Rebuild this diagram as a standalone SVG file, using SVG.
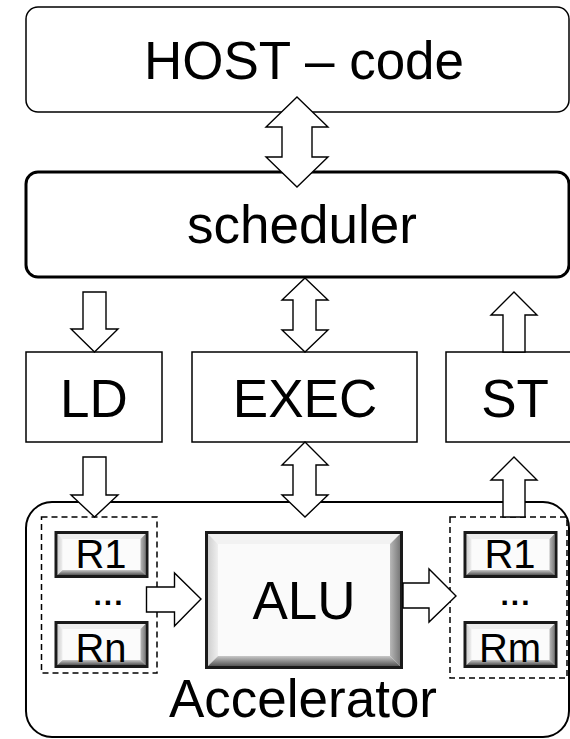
<svg xmlns="http://www.w3.org/2000/svg" xmlns:xlink="http://www.w3.org/1999/xlink" width="570" height="739" viewBox="0 0 570 739">
<style>
.box{fill:#fff;stroke:#000;stroke-width:1.5}
.arr{fill:#fff;stroke:#000;stroke-width:1.4;stroke-linejoin:miter}
.dash{fill:none;stroke:#000;stroke-width:1.5;stroke-dasharray:6,4}
.t{font-family:"Liberation Sans",Arial,sans-serif;font-size:53px;fill:#000;text-anchor:middle}
.r{font-family:"Liberation Sans",Arial,sans-serif;font-size:40px;fill:#000;text-anchor:middle}
.d{font-family:"Liberation Sans",Arial,sans-serif;font-size:30px;font-weight:bold;letter-spacing:2px;fill:#000;text-anchor:middle}
</style>
<defs>
<linearGradient id="gl" x1="0" y1="0" x2="1" y2="0"><stop offset="0" stop-color="#cfcfcf"/><stop offset="1" stop-color="#efefef"/></linearGradient>
<linearGradient id="gr" x1="0" y1="0" x2="1" y2="0"><stop offset="0" stop-color="#b8b8b8"/><stop offset="1" stop-color="#7a7a7a"/></linearGradient>
<linearGradient id="gb" x1="0" y1="0" x2="0" y2="1"><stop offset="0" stop-color="#c8c8c8"/><stop offset="1" stop-color="#555"/></linearGradient>
<g id="reg">
<rect x="3" y="3" width="88" height="41" fill="#fbfbfb"/>
<polygon points="3,3 91,3 86,8 8,8" fill="#ededed"/>
<polygon points="3,3 8,8 8,39 3,44" fill="url(#gl)"/>
<polygon points="91,3 91,44 86,39 86,8" fill="url(#gr)"/>
<polygon points="3,44 91,44 86,39 8,39" fill="url(#gb)"/>
<rect x="1.5" y="1.5" width="91" height="44" fill="none" stroke="#1a1a1a" stroke-width="3"/>
</g>
</defs>

<g id="host">
<rect class="box" x="26" y="7" width="543" height="105" rx="12"/>
<text class="t" x="304" y="79">HOST – code</text>
</g>
<g id="scheduler">
<rect class="box" x="26" y="172" width="543" height="105" rx="12" style="stroke-width:3"/>
<text class="t" x="302" y="243">scheduler</text>
</g>
<g id="ld">
<rect class="box" x="26" y="352" width="136" height="90"/>
<text class="t" x="94" y="417">LD</text>
</g>
<g id="exec">
<rect class="box" x="192" y="352" width="225" height="90"/>
<text class="t" x="305" y="417">EXEC</text>
</g>
<g id="st">
<rect class="box" x="446" y="352" width="140" height="90"/>
<text class="t" x="515" y="417">ST</text>
</g>
<g id="accelerator">
<rect class="box" x="26" y="502" width="543" height="235" rx="26" style="stroke-width:2"/>
<text class="t" x="303" y="717">Accelerator</text>
</g>
<g id="in-regs">
<rect class="dash" x="41.5" y="517" width="115.5" height="156"/>
<use xlink:href="#reg" href="#reg" x="54.5" y="531"/>
<text class="r" x="101" y="568">R1</text>
<text class="d" x="109" y="605">...</text>
<use xlink:href="#reg" href="#reg" x="54.5" y="621"/>
<text class="r" x="101" y="662">Rn</text>
</g>
<g id="out-regs">
<rect class="dash" x="450" y="517" width="117" height="161"/>
<use xlink:href="#reg" href="#reg" x="463.5" y="531"/>
<text class="r" x="510" y="568">R1</text>
<text class="d" x="516" y="605">...</text>
<use xlink:href="#reg" href="#reg" x="463.5" y="621"/>
<text class="r" x="510" y="662">Rm</text>
</g>
<g id="alu">
<g transform="translate(205,531)">
<rect x="3" y="3" width="192" height="132" fill="#fafafa"/>
<polygon points="3,3 195,3 185,13 13,13" fill="#f2f2f2"/>
<polygon points="3,3 13,13 13,125 3,135" fill="url(#gl)"/>
<polygon points="195,3 195,135 185,125 185,13" fill="url(#gr)"/>
<polygon points="3,135 195,135 185,125 13,125" fill="url(#gb)"/>
<rect x="1.5" y="1.5" width="195" height="135" fill="none" stroke="#1a1a1a" stroke-width="3"/>
</g>
<text class="t" x="304" y="619">ALU</text>
</g>

<g id="connectors">
<polygon class="arr" points="297,97 328,127 312,127 312,157 328,157 297,187 266,157 282,157 282,127 266,127"/>
<polygon class="arr" points="305,278 328,300 316,300 316,330 328,330 305,352 282,330 293,330 293,300 282,300"/>
<polygon class="arr" points="305,442 328,465 316,465 316,495 328,495 305,517 282,495 293,495 293,465 282,465"/>
<polygon class="arr" points="83,292 106,292 106,329 118,329 94.5,352 71,329 83,329"/>
<polygon class="arr" points="83,457 106,457 106,495 118,495 94.5,517 71,495 83,495"/>
<polygon class="arr" points="514,292 537,315 525,315 525,352 503,352 503,315 491,315"/>
<polygon class="arr" points="514,457 537,480 525,480 525,517 503,517 503,480 491,480"/>
<polygon class="arr" points="146.5,587 174.5,587 174.5,573 201,599 174.5,626 174.5,612 146.5,612"/>
<polygon class="arr" points="403,583 429,583 429,569 456,596 429,622 429,608 403,608"/>
</g>
</svg>
